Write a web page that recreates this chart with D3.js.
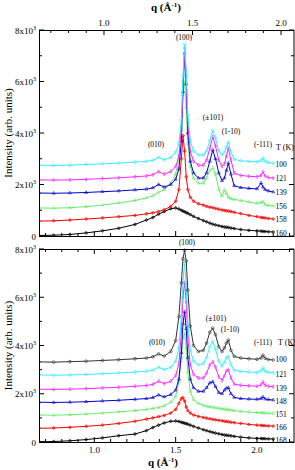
<!DOCTYPE html>
<html>
<head>
<meta charset="utf-8">
<script src="https://cdn.jsdelivr.net/npm/d3@7"></script>
<style>
  html, body { margin: 0; padding: 0; background: #fff; }
  svg text { font-family: "Liberation Serif", "DejaVu Serif", serif; fill: #000; }
</style>
</head>
<body>
<div id="chart"></div>
<script>
// q grid (lower-axis units, Å^-1) shared by every trace
const q = [0.66, 0.75, 0.85, 0.95, 1.05, 1.15, 1.25, 1.32, 1.36, 1.395, 1.43, 1.47, 1.50, 1.52, 1.535, 1.545, 1.555, 1.565, 1.575, 1.59, 1.61, 1.64, 1.67, 1.69, 1.71, 1.728, 1.745, 1.765, 1.785, 1.80, 1.812, 1.824, 1.84, 1.86, 1.90, 1.95, 2.00, 2.025, 2.037, 2.05, 2.07, 2.10];

// upper panel
const topTemps = ["100", "121", "139", "156", "158", "160"];
const top100 = [2750, 2740, 2750, 2780, 2800, 2830, 2870, 2900, 2940, 3050, 2960, 3050, 3250, 3600, 4500, 6200, 7450, 6400, 4700, 3700, 3300, 3150, 3150, 3300, 3700, 4100, 3800, 3300, 3150, 3250, 3450, 3650, 3250, 2980, 2920, 2900, 2880, 2920, 3030, 2900, 2850, 2830];
const top121 = [2180, 2170, 2180, 2200, 2230, 2260, 2300, 2330, 2380, 2500, 2400, 2500, 2700, 3100, 4100, 5900, 7300, 6200, 4400, 3300, 2900, 2750, 2750, 2950, 3400, 3850, 3500, 2950, 2700, 2800, 3100, 3400, 2950, 2450, 2350, 2320, 2300, 2350, 2490, 2330, 2270, 2250];
const top139 = [1670, 1660, 1670, 1690, 1720, 1750, 1790, 1820, 1870, 2000, 1900, 2000, 2200, 2600, 3700, 5600, 7100, 5900, 4000, 2900, 2450, 2250, 2250, 2450, 2900, 3340, 3000, 2450, 2150, 2250, 2550, 2830, 2400, 1950, 1880, 1850, 1830, 2060, 1900, 1800, 1750, 1710];
const top156 = [1090, 1080, 1100, 1140, 1200, 1280, 1380, 1480, 1560, 1700, 1800, 2050, 2400, 3000, 4200, 5500, 6000, 5000, 3600, 2700, 2250, 2050, 2050, 2250, 2550, 2640, 2400, 1800, 1550, 1790, 1650, 1500, 1450, 1420, 1380, 1320, 1270, 1300, 1330, 1220, 1190, 1165];
const top158 = [580, 590, 620, 660, 700, 750, 800, 860, 900, 950, 1020, 1150, 1350, 1800, 3000, 3900, 3300, 2300, 1800, 1500, 1350, 1250, 1200, 1150, 1120, 1100, 1070, 1040, 1010, 990, 980, 970, 950, 920, 870, 800, 750, 720, 710, 700, 680, 660];
const top160 = [20, 30, 60, 120, 200, 300, 450, 620, 720, 850, 950, 1060, 1090, 1050, 1000, 970, 940, 910, 880, 830, 760, 680, 600, 550, 500, 460, 430, 400, 370, 350, 340, 330, 310, 290, 250, 220, 200, 190, 180, 175, 165, 155];

// lower panel
const botTemps = ["100", "121", "139", "148", "151", "166", "168"];
const bot100 = [3320, 3310, 3330, 3350, 3380, 3410, 3450, 3480, 3530, 3650, 3560, 3750, 4200, 5200, 6600, 7600, 7950, 7500, 6300, 4800, 4000, 3750, 3800, 4100, 4550, 4720, 4450, 3950, 3750, 3900, 4100, 4230, 3800, 3550, 3480, 3450, 3430, 3480, 3600, 3470, 3420, 3400];
const bot121 = [2780, 2770, 2780, 2800, 2830, 2860, 2900, 2930, 2980, 3100, 3000, 3100, 3350, 3900, 5200, 6700, 7400, 6500, 4900, 3800, 3350, 3200, 3250, 3500, 3950, 4160, 3850, 3350, 3150, 3300, 3500, 3540, 3200, 2980, 2930, 2900, 2890, 2950, 3070, 2930, 2890, 2870];
const bot139 = [2190, 2180, 2190, 2210, 2240, 2270, 2310, 2340, 2390, 2520, 2420, 2520, 2750, 3250, 4500, 6000, 6600, 5800, 4300, 3200, 2800, 2650, 2650, 2850, 3200, 3330, 3100, 2700, 2550, 2750, 2950, 3000, 2650, 2400, 2350, 2330, 2310, 2370, 2490, 2350, 2310, 2290];
const bot148 = [1650, 1640, 1650, 1670, 1700, 1730, 1770, 1800, 1840, 1950, 1870, 1970, 2150, 2600, 3700, 4900, 5400, 4700, 3500, 2600, 2250, 2100, 2100, 2250, 2450, 2500, 2300, 2050, 2000, 2150, 2230, 2250, 2000, 1850, 1800, 1780, 1770, 1800, 1870, 1780, 1760, 1740];
const bot151 = [1120, 1110, 1130, 1160, 1200, 1250, 1300, 1350, 1390, 1430, 1500, 1650, 1900, 2500, 3500, 4300, 4500, 3900, 2900, 2100, 1750, 1600, 1520, 1480, 1460, 1440, 1420, 1400, 1380, 1360, 1350, 1340, 1320, 1300, 1270, 1240, 1220, 1210, 1210, 1200, 1195, 1190];
const bot166 = [570, 580, 610, 650, 700, 770, 860, 950, 1000, 1050, 1100, 1200, 1350, 1600, 1800, 1840, 1700, 1450, 1300, 1200, 1120, 1060, 1020, 990, 960, 940, 920, 900, 880, 860, 850, 840, 820, 800, 770, 730, 700, 690, 680, 675, 665, 660];
const bot168 = [10, 20, 50, 100, 170, 260, 330, 470, 600, 700, 790, 860, 870, 850, 820, 800, 780, 760, 740, 700, 650, 580, 510, 470, 430, 400, 370, 340, 310, 290, 280, 270, 255, 235, 200, 170, 150, 145, 140, 135, 130, 125];

const peakNames = ["(010)", "(100)", "(\u00b1101)", "(1-10)", "(-111)"];
const yTicks = [0, 2000, 4000, 6000, 8000];
const qTicks = [1.0, 1.5, 2.0];

const width = 295, height = 470;
const left = 39, right = 294;

const svg = d3.select("#chart").append("svg")
  .attr("width", width)
  .attr("height", height);

// lower q scale (both panels share the pixel positions)
const x = d3.scaleLinear().domain([0.66, 2.2275]).range([left, right]);
// upper q axis of the top panel uses its own calibration
const xTop = d3.scaleLinear().domain([0.633, 2.073]).range([left, right]);

const symbols = {
  cross: d3.symbol().type(d3.symbolCross).size(4),
  circle: d3.symbol().type(d3.symbolCircle).size(6),
  triangle: d3.symbol().type(d3.symbolTriangle).size(4),
  diamond: d3.symbol().type(d3.symbolDiamond).size(4)
};

const panels = [
  {
    top: 30, bottom: 236,
    series: [
      { t: topTemps[5], v: top160, color: "#000000", sym: "cross" },
      { t: topTemps[4], v: top158, color: "#ff0000", sym: "cross" },
      { t: topTemps[3], v: top156, color: "#66ee66", sym: "triangle" },
      { t: topTemps[2], v: top139, color: "#0000cc", sym: "triangle" },
      { t: topTemps[1], v: top121, color: "#ff22ff", sym: "diamond" },
      { t: topTemps[0], v: top100, color: "#33eeff", sym: "circle" }
    ],
    labels: [
      { n: 1, px: 184, py: 40 }, { n: 2, px: 213, py: 120 }, { n: 3, px: 231, py: 134 },
      { n: 0, px: 156, py: 147 }, { n: 4, px: 263, py: 147 }
    ],
    tLabel: { x: 276, y: 150 },
    tOffsets: [165, 179, 193, 207, 220, 234],
    topAxis: true
  },
  {
    top: 249, bottom: 442,
    series: [
      { t: botTemps[6], v: bot168, color: "#000000", sym: "cross" },
      { t: botTemps[5], v: bot166, color: "#ff0000", sym: "cross" },
      { t: botTemps[4], v: bot151, color: "#66ee66", sym: "triangle" },
      { t: botTemps[3], v: bot148, color: "#0000cc", sym: "triangle" },
      { t: botTemps[2], v: bot139, color: "#ff22ff", sym: "diamond" },
      { t: botTemps[1], v: bot121, color: "#33eeff", sym: "circle" },
      { t: botTemps[0], v: bot100, color: "#333333", sym: "circle" }
    ],
    labels: [
      { n: 1, px: 187, py: 245 }, { n: 2, px: 216, py: 321 }, { n: 3, px: 230, py: 332 },
      { n: 0, px: 157, py: 345 }, { n: 4, px: 263, py: 345 }
    ],
    tLabel: { x: 278, y: 345 },
    tOffsets: [360, 375, 389, 402, 415, 428, 441],
    topAxis: false
  }
];

panels.forEach(p => {
  const y = d3.scaleLinear().domain([0, 8000]).range([p.bottom, p.top]);
  const g = svg.append("g");

  const clipId = "clip" + p.top;
  svg.append("clipPath").attr("id", clipId)
    .append("rect").attr("x", left).attr("y", p.top - 6)
    .attr("width", right - left).attr("height", p.bottom - p.top + 6);

  const plot = g.append("g").attr("clip-path", "url(#" + clipId + ")");
  const line = d3.line().x((d, i) => x(q[i])).y(d => y(d));

  p.series.forEach(s => {
    plot.append("path")
      .attr("d", line(s.v))
      .attr("fill", "none")
      .attr("stroke", s.color)
      .attr("stroke-width", 1);
    plot.selectAll(null)
      .data(s.v)
      .enter()
      .append("path")
      .attr("transform", (d, i) => "translate(" + x(q[i]) + "," + y(d) + ")")
      .attr("d", symbols[s.sym])
      .attr("fill", "none")
      .attr("stroke", s.color)
      .attr("stroke-width", 0.6);
  });

  // frame
  g.append("rect")
    .attr("x", left + 0.5).attr("y", p.top + 0.5)
    .attr("width", right - left - 0.5).attr("height", p.bottom - p.top)
    .attr("fill", "none").attr("stroke", "#000").attr("stroke-width", 1);

  // y ticks, inward on both sides
  d3.range(0, 8001, 1000).forEach(v => {
    const len = v % 2000 === 0 ? 5 : 3;
    g.append("line").attr("x1", left).attr("x2", left + len)
      .attr("y1", y(v)).attr("y2", y(v)).attr("stroke", "#000");
    g.append("line").attr("x1", right).attr("x2", right - len)
      .attr("y1", y(v)).attr("y2", y(v)).attr("stroke", "#000");
  });

  yTicks.forEach(v => {
    const t = g.append("text")
      .attr("x", 36).attr("y", y(v) + 3.5)
      .attr("text-anchor", "end")
      .attr("font-size", 9);
    if (v === 0) {
      t.text("0");
    } else {
      t.append("tspan").text((v / 1000) + "x10");
      t.append("tspan").attr("dy", -4).attr("font-size", 6).text("3");
    }
  });

  // lower-scale x ticks
  d3.range(0.7, 2.21, 0.1).forEach(v => {
    const major = Math.abs(v * 2 - Math.round(v * 2)) < 1e-6;
    const len = major ? 5 : 3;
    g.append("line").attr("x1", x(v)).attr("x2", x(v))
      .attr("y1", p.bottom).attr("y2", p.bottom - len).attr("stroke", "#000");
    if (!p.topAxis) {
      g.append("line").attr("x1", x(v)).attr("x2", x(v))
        .attr("y1", p.top).attr("y2", p.top + len).attr("stroke", "#000");
    }
  });

  if (p.topAxis) {
    d3.range(0.7, 2.07, 0.1).forEach(v => {
      const major = Math.abs(v * 2 - Math.round(v * 2)) < 1e-6;
      const len = major ? 5 : 3;
      g.append("line").attr("x1", xTop(v)).attr("x2", xTop(v))
        .attr("y1", p.top).attr("y2", p.top + len).attr("stroke", "#000");
    });
    qTicks.forEach(v => {
      g.append("text").attr("x", xTop(v)).attr("y", 26)
        .attr("text-anchor", "middle").attr("font-size", 9)
        .text(v.toFixed(1));
    });
  } else {
    qTicks.forEach(v => {
      g.append("text").attr("x", x(v)).attr("y", 453)
        .attr("text-anchor", "middle").attr("font-size", 9)
        .text(v.toFixed(1));
    });
  }

  // peak labels
  p.labels.forEach(l => {
    g.append("text").attr("x", l.px).attr("y", l.py)
      .attr("text-anchor", "middle").attr("font-size", 7.5)
      .text(peakNames[l.n]);
  });

  // temperature legend on the right
  g.append("text").attr("x", p.tLabel.x).attr("y", p.tLabel.y)
    .attr("font-size", 8).text("T (K)");
  p.series.slice().reverse().forEach((s, i) => {
    g.append("text").attr("x", 281).attr("y", p.tOffsets[i] + 2)
      .attr("text-anchor", "middle").attr("font-size", 7.5)
      .text(s.t);
  });

  // y title
  g.append("text")
    .attr("transform", "translate(12," + ((p.top + p.bottom) / 2) + ") rotate(-90)")
    .attr("text-anchor", "middle").attr("font-size", 11)
    .text("Intensity (arb. units)");
});

// q titles
function qTitle(cx, cy) {
  const t = svg.append("text").attr("x", cx).attr("y", cy)
    .attr("text-anchor", "middle").attr("font-size", 11).attr("font-weight", "bold");
  t.append("tspan").text("q (\u00c5");
  t.append("tspan").attr("dy", -4).attr("font-size", 7).text("-1");
  t.append("tspan").attr("dy", 4).text(")");
}
qTitle(166, 11);
qTitle(163, 466);
</script>
</body>
</html>
